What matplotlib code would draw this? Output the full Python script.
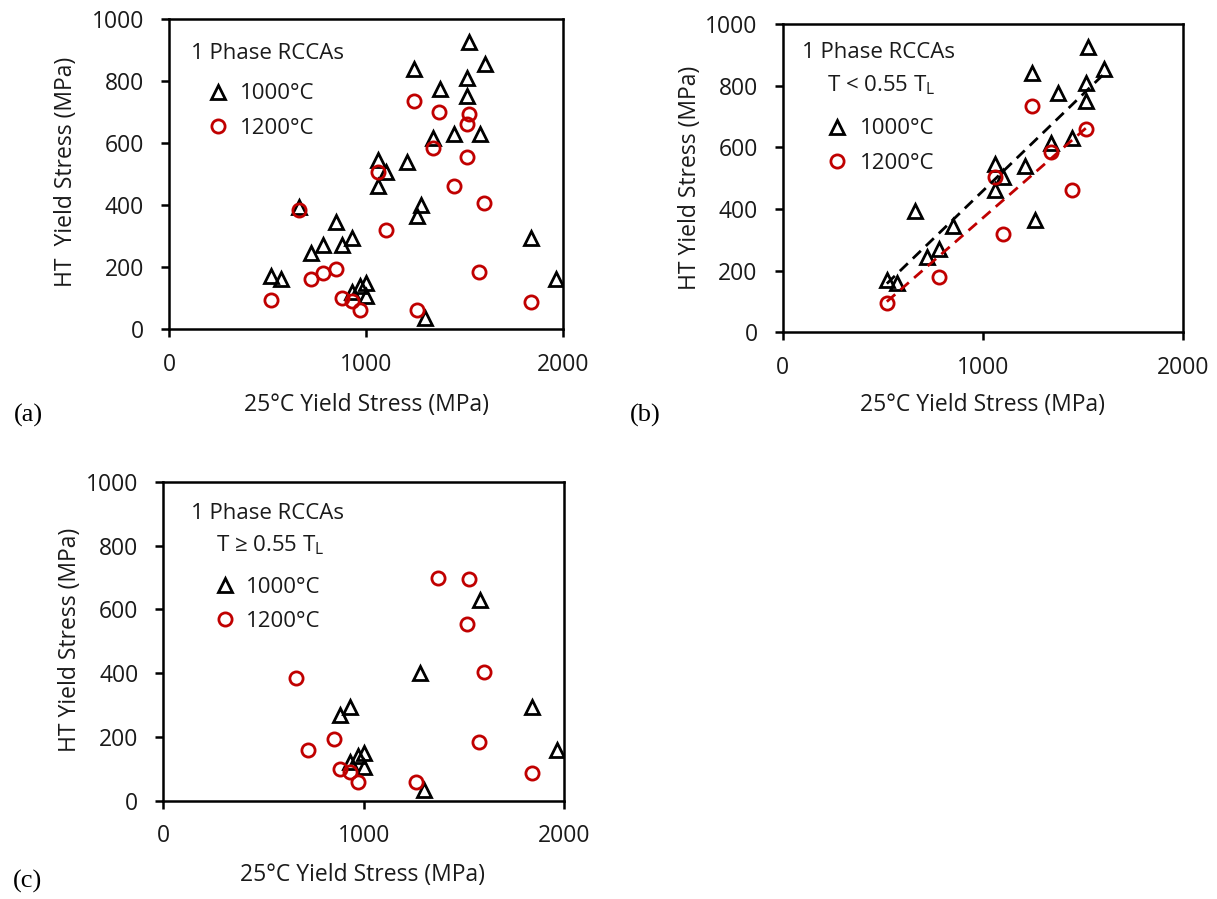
import numpy as np
import matplotlib
matplotlib.use("Agg")
import matplotlib.pyplot as plt

plt.rcParams['font.family'] = ['Open Sans', 'DejaVu Sans']

# T < 0.55 TL alloys (panel b)
lo_1000_x = [520, 570, 660, 720, 780, 850, 1060, 1100, 1060, 1210, 1245, 1260, 1375, 1340, 1445, 1525, 1515, 1515, 1605]
lo_1000_y = [170, 160, 395, 245, 270, 345, 545, 505, 460, 540, 840, 365, 775, 615, 630, 925, 810, 750, 855]
lo_1200_x = [520, 780, 1060, 1100, 1245, 1340, 1445, 1515]
lo_1200_y = [95, 180, 505, 320, 735, 585, 460, 660]

# T >= 0.55 TL alloys (panel c)
hi_1000_x = [880, 930, 930, 970, 1000, 1000, 1280, 1300, 1580, 1840, 1965]
hi_1000_y = [270, 295, 120, 140, 150, 105, 400, 35, 630, 295, 160]
hi_1200_x = [660, 720, 850, 880, 930, 970, 1260, 1370, 1525, 1515, 1600, 1575, 1840]
hi_1200_y = [385, 160, 195, 100, 90, 60, 60, 700, 695, 555, 405, 185, 88]

# panel a = all alloys
all_1000_x = lo_1000_x + hi_1000_x
all_1000_y = lo_1000_y + hi_1000_y
all_1200_x = lo_1200_x + hi_1200_x
all_1200_y = lo_1200_y + hi_1200_y

RED = '#c00000'
TXT = '#1a1a1a'
FS_TICK = 16.5
FS_LAB = 16.5
FS_LEG = 16

W, H = 1217, 899
fig = plt.figure(figsize=(W / 100, H / 100), dpi=100)


def px_axes(l, t, r, b):
    return fig.add_axes([l / W, 1 - b / H, (r - l) / W, (b - t) / H])


def setup(ax):
    ax.set_xlim(0, 2000)
    ax.set_ylim(0, 1000)
    ax.set_xticks([0, 1000, 2000])
    ax.set_yticks([0, 200, 400, 600, 800, 1000])
    for s in ax.spines.values():
        s.set_linewidth(1.8)
        s.set_color('black')
    ax.tick_params(axis='both', direction='out', length=6, width=1.8,
                   labelsize=FS_TICK, labelcolor=TXT)
    ax.tick_params(axis='x', pad=11)
    ax.tick_params(axis='y', pad=12)


def points(ax, x1, y1, x2, y2):
    h1, = ax.plot(x1, y1, ls='none', marker='^', ms=10.5, mfc='none',
                  mec='black', mew=2.0, label='1000°C', zorder=3)
    h2, = ax.plot(x2, y2, ls='none', marker='o', ms=9.5, mfc='none',
                  mec=RED, mew=2.0, label='1200°C', zorder=3)
    return h1, h2


def legend(ax, x, y, pad):
    ax.legend(loc='upper left', bbox_to_anchor=(x, y), frameon=False,
              fontsize=FS_LEG, handlelength=1.0, handletextpad=pad,
              labelspacing=0.6, borderpad=0, borderaxespad=0,
              labelcolor=TXT)


def labels(xl, yl, ylabel, xx, xy, xlab_text, tag, tx, ty):
    fig.text(xl / W, 1 - yl / H, ylabel, rotation=90, ha='center',
             va='center', fontsize=FS_LAB, color=TXT)
    fig.text(xx / W, 1 - xy / H, xlab_text, ha='center', va='center',
             fontsize=FS_LAB, color=TXT)
    fig.text(tx / W, 1 - ty / H, tag, ha='center', va='center',
             fontsize=19, family='Liberation Serif', color='black')


# (a)
ax = px_axes(169, 19, 563, 329)
setup(ax)
points(ax, all_1000_x, all_1000_y, all_1200_x, all_1200_y)
ax.text(0.249, 0.870, '1 Phase RCCAs', transform=ax.transAxes, ha='center',
        va='baseline', fontsize=FS_LEG, color=TXT)
legend(ax, 0.095, 0.792, 0.5)
labels(66, 172, 'HT  Yield Stress (MPa)', 366, 405,
       '25°C Yield Stress (MPa)', '(a)', 28, 415)

# (b)
ax = px_axes(782.7, 24, 1183.3, 332.3)
setup(ax)
points(ax, lo_1000_x, lo_1000_y, lo_1200_x, lo_1200_y)
for xs, ys, c in [(lo_1000_x, lo_1000_y, 'black'), (lo_1200_x, lo_1200_y, RED)]:
    k, b0 = np.polyfit(xs, ys, 1)
    xl = np.array([min(xs), max(xs)])
    ax.plot(xl, k * xl + b0, color=c, lw=2.0, dashes=(4, 2.5), zorder=4)
ax.text(0.240, 0.889, '1 Phase RCCAs', transform=ax.transAxes, ha='center',
        va='baseline', fontsize=FS_LEG, color=TXT)
ax.text(0.247, 0.780, 'T < 0.55 T$_\\mathregular{L}$', transform=ax.transAxes,
        ha='center', va='baseline', fontsize=FS_LEG, color=TXT)
legend(ax, 0.109, 0.694, 0.53)
labels(690, 178, 'HT Yield Stress (MPa)', 983, 405,
       '25°C Yield Stress (MPa)', '(b)', 645, 415)

# (c)
ax = px_axes(163.3, 482, 564.3, 800.7)
setup(ax)
points(ax, hi_1000_x, hi_1000_y, hi_1200_x, hi_1200_y)
ax.text(0.259, 0.883, '1 Phase RCCAs', transform=ax.transAxes, ha='center',
        va='baseline', fontsize=FS_LEG, color=TXT)
ax.text(0.266, 0.781, 'T ≥ 0.55 T$_\\mathregular{L}$', transform=ax.transAxes,
        ha='center', va='baseline', fontsize=FS_LEG, color=TXT)
legend(ax, 0.126, 0.703, 0.45)
labels(70, 640, 'HT Yield Stress (MPa)', 363, 875,
       '25°C Yield Stress (MPa)', '(c)', 28, 881)

fig.savefig('out.png', dpi=100)
